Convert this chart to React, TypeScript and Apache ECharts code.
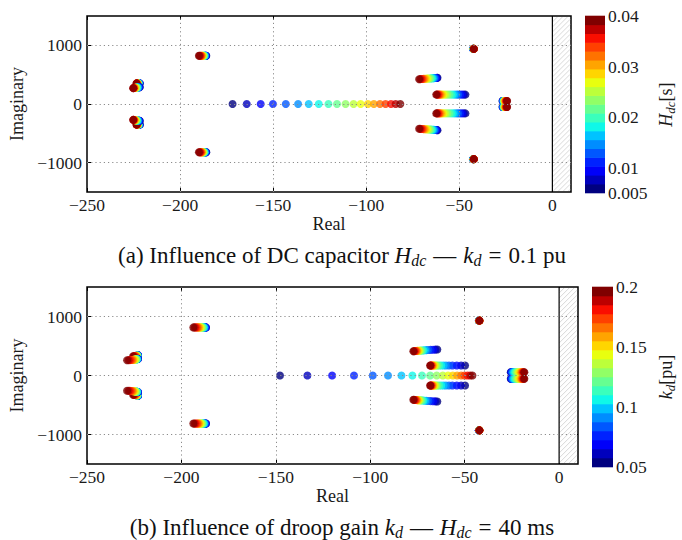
import React, { useEffect, useRef } from "react";
import * as echarts from "echarts";

// ---- parameter sweeps (colour dimension) ----
const HDC = [0.005, 0.00684, 0.00868, 0.01053, 0.01237, 0.01421, 0.01605, 0.01789, 0.01974, 0.02158, 0.02342, 0.02526, 0.02711, 0.02895, 0.03079, 0.03263, 0.03447, 0.03632, 0.03816, 0.04];
const KD = [0.05, 0.0579, 0.0658, 0.0737, 0.0816, 0.0895, 0.0974, 0.1053, 0.1132, 0.1211, 0.1289, 0.1368, 0.1447, 0.1526, 0.1605, 0.1684, 0.1763, 0.1842, 0.1921, 0.2];

// ---- (a) eigenvalue loci vs H_dc (upper half plane; conjugates mirrored) ----
const A_REAL_RE = [-171.8, -164.2, -156.7, -150.1, -143.2, -136.6, -130.9, -125.5, -120.3, -115.7, -111.1, -106.8, -103.0, -99.1, -95.9, -92.6, -89.6, -86.7, -84.2, -81.7];
const A_REAL_IM = 0;
const A_LF1_RE = [-221.6, -221.7, -221.8, -221.9, -222.0, -222.1, -222.2, -222.3, -222.4, -222.5, -222.6, -222.7, -222.8, -222.9, -223.0, -223.1, -223.2, -223.3, -223.35, -223.4];
const A_LF1_IM = 352;
const A_LF2_RE = [-221.6, -221.8, -222.0, -222.2, -222.4, -222.6, -222.8, -223.0, -223.2, -223.4, -223.6, -223.8, -224.0, -224.2, -224.4, -224.6, -224.8, -225.0, -225.1, -225.2];
const A_LF2_IM = [288, 287, 286, 285, 284, 283, 282, 281, 280, 279, 278, 277, 276, 275, 274, 273, 272, 271, 270, 270];
const A_M820_RE = [-185.9, -186.1, -186.2, -186.4, -186.5, -186.7, -186.8, -187.0, -187.1, -187.3, -187.5, -187.7, -187.9, -188.1, -188.3, -188.6, -188.9, -189.2, -189.5, -189.9];
const A_M820_IM = 822;
const A_M430_RE = [-61.7, -62.0, -62.4, -62.8, -63.2, -63.6, -64.1, -64.6, -65.1, -65.6, -66.2, -66.8, -67.4, -68.0, -68.6, -69.2, -69.8, -70.4, -71.0, -71.6];
const A_M430_IM = [446, 445, 444, 443, 442, 441, 440, 439, 437, 436, 435, 433, 432, 430, 429, 428, 426, 425, 424, 423];
const A_M160_RE = [-46.7, -47.6, -48.6, -49.6, -50.6, -51.5, -52.5, -53.5, -54.5, -55.5, -56.5, -57.5, -58.4, -59.2, -59.9, -60.5, -61.0, -61.5, -62.0, -62.4];
const A_M160_IM = 160;
const A_M940_RE = [-42.6, -42.6, -42.5, -42.5, -42.5, -42.4, -42.4, -42.4, -42.4, -42.3, -42.3, -42.3, -42.3, -42.3, -42.2, -42.2, -42.2, -42.2, -42.2, -42.2];
const A_M940_IM = 940;
const A_M50_RE = [-26.8, -26.7, -26.6, -26.5, -26.4, -26.3, -26.2, -26.1, -26.0, -25.9, -25.8, -25.7, -25.6, -25.5, -25.3, -25.1, -24.9, -24.7, -24.5, -24.3];
const A_M50_IM = 52;

// ---- (b) eigenvalue loci vs k_d ----
const B_REAL_RE = [-147.8, -133.3, -120.2, -108.6, -98.7, -90.6, -83.5, -77.7, -72.6, -68.3, -64.8, -61.6, -58.8, -56.3, -54.0, -51.9, -50.1, -48.5, -47.1, -45.9];
const B_REAL_IM = 0;
const B_LF1_RE = [-223.0, -223.0, -223.1, -223.1, -223.2, -223.2, -223.3, -223.3, -223.4, -223.5, -223.6, -223.7, -223.8, -223.9, -224.1, -224.3, -224.6, -224.9, -225.2, -225.6];
const B_LF1_IM = [345, 344, 343, 342, 341, 340, 339, 338, 337, 336, 335, 334, 333, 332, 331, 330, 329, 328, 327, 326];
const B_LF2_RE = [-223.0, -223.1, -223.1, -223.2, -223.3, -223.4, -223.5, -223.6, -223.8, -224.0, -224.2, -224.5, -224.8, -225.2, -225.6, -226.1, -226.7, -227.3, -228.0, -228.8];
const B_LF2_IM = [282, 281, 280, 279, 278, 277, 276, 275, 274, 273, 272, 270, 269, 267, 266, 264, 263, 261, 260, 258];
const B_M820_RE = [-187.0, -187.1, -187.2, -187.4, -187.6, -187.8, -188.0, -188.3, -188.6, -188.9, -189.2, -189.6, -190.0, -190.4, -190.8, -191.3, -191.8, -192.4, -193.0, -193.7];
const B_M820_IM = 815;
const B_M430_RE = [-64.5, -65.5, -66.7, -68.0, -69.2, -70.2, -71.0, -71.8, -72.4, -73.0, -73.5, -74.0, -74.4, -74.8, -75.2, -75.6, -76.0, -76.4, -76.8, -77.2];
const B_M430_IM = [440, 438, 436, 434, 432, 430, 428, 426, 424, 422, 421, 420, 419, 418, 417, 416, 415, 414, 412, 410];
const B_M160_RE = [-49.8, -51.9, -54.2, -56.5, -58.3, -59.9, -61.2, -62.4, -63.4, -64.3, -65.0, -65.6, -66.1, -66.5, -66.9, -67.3, -67.6, -67.9, -68.1, -68.3];
const B_M160_IM = 169;
const B_M930_RE = [-42.5, -42.5, -42.5, -42.4, -42.4, -42.4, -42.4, -42.3, -42.3, -42.3, -42.3, -42.3, -42.2, -42.2, -42.2, -42.2, -42.2, -42.2, -42.2, -42.2];
const B_M930_IM = 930;
const B_M55_RE = [-25.6, -25.4, -25.2, -25.0, -24.8, -24.5, -24.1, -23.6, -23.1, -22.6, -22.1, -21.6, -21.1, -20.6, -20.1, -19.7, -19.3, -19.0, -18.7, -18.4];
const B_M55_IM = 55;

// ---- axes / ticks ----
const X_MIN = -250;
const X_MAX = 10;
const Y_MIN = -1500;
const Y_MAX = 1500;
const X_TICKS = [-250, -200, -150, -100, -50, 0];
const X_GRID = [-200, -150, -100, -50];
const Y_TICKS = [-1000, 0, 1000];
const HDC_MIN = 0.005;
const HDC_MAX = 0.04;
const HDC_TICKS = [0.005, 0.01, 0.02, 0.03, 0.04];
const KD_MIN = 0.05;
const KD_MAX = 0.2;
const KD_TICKS = [0.05, 0.1, 0.15, 0.2];
const N_LEVELS = 20;

const SERIF = "'Liberation Serif', 'DejaVu Serif', serif";
const TXT = "#1a1a1a";

function jet(t: number): string {
  const f = (pts: number[][]) => {
    for (let k = 1; k < pts.length; k++) {
      if (t <= pts[k][0]) {
        const [x0, y0] = pts[k - 1];
        const [x1, y1] = pts[k];
        return y0 + ((y1 - y0) * (t - x0)) / (x1 - x0);
      }
    }
    return pts[pts.length - 1][1];
  };
  const r = f([[0, 0], [0.35, 0], [0.66, 1], [0.89, 1], [1, 0.5]]);
  const g = f([[0, 0], [0.125, 0], [0.375, 1], [0.64, 1], [0.91, 0], [1, 0]]);
  const b = f([[0, 0.5], [0.11, 1], [0.34, 1], [0.65, 0], [1, 0]]);
  return `rgb(${Math.round(r * 255)},${Math.round(g * 255)},${Math.round(b * 255)})`;
}

type Traj = [number[], number | number[]];

function buildPoints(trajs: Traj[], params: number[]) {
  const out: number[][] = [];
  trajs.forEach(([re, im]) => {
    re.forEach((r, i) => {
      const v = Array.isArray(im) ? im[i] : im;
      out.push([r, v, params[i]]);
      if (v !== 0) out.push([r, -v, params[i]]);
    });
  });
  return out;
}

function pieces(min: number, max: number) {
  const w = (max - min) / N_LEVELS;
  const res: any[] = [];
  for (let i = 0; i < N_LEVELS; i++) {
    const lo = min + i * w;
    const p: any = { gte: lo, color: jet(i / (N_LEVELS - 1)) };
    if (i === N_LEVELS - 1) p.lte = max;
    else p.lt = min + (i + 1) * w;
    res.push(p);
  }
  return res;
}

function bands(min: number, max: number) {
  const w = (max - min) / N_LEVELS;
  const res: number[][] = [];
  for (let i = 0; i < N_LEVELS; i++) res.push([min + i * w, min + (i + 1) * w, i]);
  return res;
}

const fmtX = (v: number) => (v < 0 ? "\u2212" + Math.abs(v) : String(v));

function mainX(grid: number, position: string, labels: boolean) {
  return {
    gridIndex: grid,
    type: "value",
    min: X_MIN,
    max: X_MAX,
    position,
    name: labels ? "Real" : "",
    nameLocation: "middle",
    nameGap: 19,
    nameTextStyle: { fontFamily: SERIF, fontSize: 18, color: TXT },
    axisLine: { show: false, onZero: false },
    axisTick: { show: true, inside: true, length: 4, customValues: X_TICKS, lineStyle: { color: "#000", width: 1 } },
    axisLabel: { show: labels, customValues: X_TICKS, formatter: fmtX, margin: 4, fontFamily: SERIF, fontSize: 17.5, color: TXT },
    splitLine: { show: false },
  };
}

function mainY(grid: number, position: string, labels: boolean) {
  return {
    gridIndex: grid,
    type: "value",
    min: Y_MIN,
    max: Y_MAX,
    position,
    name: labels ? "Imaginary" : "",
    nameLocation: "middle",
    nameRotate: 90,
    nameGap: 58,
    nameTextStyle: { fontFamily: SERIF, fontSize: 18, color: TXT },
    axisLine: { show: false, onZero: false },
    axisTick: { show: true, inside: true, length: 4, customValues: Y_TICKS, lineStyle: { color: "#000", width: 1 } },
    axisLabel: { show: labels, customValues: Y_TICKS, formatter: fmtX, margin: 5, fontFamily: SERIF, fontSize: 17.5, color: TXT },
    splitLine: { show: false },
  };
}

function cbX(grid: number) {
  return { gridIndex: grid, type: "value", min: 0, max: 1, show: false, axisLine: { onZero: false } };
}

function cbY(grid: number, min: number, max: number, ticks: number[], name: string, gap: number) {
  const base = { fontFamily: SERIF, color: TXT };
  return {
    gridIndex: grid,
    type: "value",
    min,
    max,
    position: "right",
    name,
    nameLocation: "middle",
    nameRotate: 90,
    nameGap: gap,
    nameTextStyle: {
      ...base,
      fontSize: 18,
      rich: {
        i: { ...base, fontSize: 18, fontStyle: "italic" },
        s: { ...base, fontSize: 13, fontStyle: "italic", padding: [9, 0, 0, 0] },
        n: { ...base, fontSize: 18 },
      },
    },
    axisLine: { show: false, onZero: false },
    axisTick: { show: false },
    splitLine: { show: false },
    axisLabel: { show: true, customValues: ticks, formatter: (v: number) => String(v), margin: 3, fontFamily: SERIF, fontSize: 17.5, color: TXT },
  };
}

function hatchSeries(xIdx: number, yIdx: number) {
  return {
    type: "custom",
    xAxisIndex: xIdx,
    yAxisIndex: yIdx,
    z: 2,
    silent: true,
    data: [[0, X_MAX]],
    renderItem: (_p: any, api: any) => {
      const p0 = api.coord([api.value(0), Y_MAX]);
      const p1 = api.coord([api.value(1), Y_MIN]);
      const x0 = p0[0];
      const y0 = p0[1] + 1;
      const x1 = p1[0] - 1;
      const y1 = p1[1] - 1;
      const children: any[] = [
        { type: "rect", shape: { x: x0, y: y0, width: x1 - x0, height: y1 - y0 }, style: { fill: "#fff" } },
      ];
      for (let c = x0 + y0; c <= x1 + y1; c += 5) {
        const xs = Math.max(x0, c - y1);
        const xe = Math.min(x1, c - y0);
        if (xe > xs) {
          children.push({ type: "line", shape: { x1: xs, y1: c - xs, x2: xe, y2: c - xe }, style: { stroke: "#cfcfcf", lineWidth: 0.8 } });
        }
      }
      children.push({ type: "line", shape: { x1: x0, y1: p0[1], x2: x0, y2: p1[1] }, style: { stroke: "#000", lineWidth: 1.2 } });
      return { type: "group", children };
    },
  };
}

function gridLineSeries(xIdx: number, yIdx: number) {
  return {
    type: "scatter",
    xAxisIndex: xIdx,
    yAxisIndex: yIdx,
    z: 1,
    silent: true,
    data: [],
    markLine: {
      silent: true,
      symbol: ["none", "none"],
      label: { show: false },
      lineStyle: { color: "#8c8c8c", width: 1, type: [1.2, 3] },
      data: [...X_GRID.map((v) => ({ xAxis: v })), ...Y_TICKS.map((v) => ({ yAxis: v }))],
    },
  };
}

function colorbarSeries(xIdx: number, yIdx: number, min: number, max: number) {
  return {
    type: "custom",
    xAxisIndex: xIdx,
    yAxisIndex: yIdx,
    z: 2,
    silent: true,
    data: bands(min, max),
    renderItem: (_p: any, api: any) => {
      const a = api.coord([0, api.value(1)]);
      const b = api.coord([1, api.value(0)]);
      return {
        type: "rect",
        shape: { x: a[0], y: a[1] - 0.3, width: b[0] - a[0], height: b[1] - a[1] + 0.6 },
        style: { fill: jet(api.value(2) / (N_LEVELS - 1)) },
      };
    },
  };
}

function caption(text: string, x: number, y: number) {
  const base = { fontFamily: SERIF, fill: "#111", color: "#111" };
  return {
    type: "text",
    x,
    y,
    silent: true,
    style: {
      text,
      align: "center",
      verticalAlign: "middle",
      textAlign: "center",
      textVerticalAlign: "middle",
      fontFamily: SERIF,
      fontSize: 23,
      fill: "#111",
      rich: {
        t: { ...base, fontSize: 23 },
        i: { ...base, fontSize: 23, fontStyle: "italic" },
        m: { ...base, fontSize: 23, padding: [0, 7, 0, 7] },
        s: { ...base, fontSize: 16, fontStyle: "italic", padding: [10, 0, 0, 0] },
      },
    },
  };
}

export default function App() {
  const ref = useRef<HTMLDivElement>(null);
  useEffect(() => {
    document.body.style.margin = "0";
    if (!ref.current) return;
    const chart = echarts.init(ref.current, undefined, { renderer: "svg" });

    const aTrajs: Traj[] = [
      [A_REAL_RE, A_REAL_IM],
      [A_LF1_RE, A_LF1_IM],
      [A_LF2_RE, A_LF2_IM],
      [A_M820_RE, A_M820_IM],
      [A_M430_RE, A_M430_IM],
      [A_M160_RE, A_M160_IM],
      [A_M940_RE, A_M940_IM],
      [A_M50_RE, A_M50_IM],
    ];
    const bTrajs: Traj[] = [
      [B_REAL_RE, B_REAL_IM],
      [B_LF1_RE, B_LF1_IM],
      [B_LF2_RE, B_LF2_IM],
      [B_M820_RE, B_M820_IM],
      [B_M430_RE, B_M430_IM],
      [B_M160_RE, B_M160_IM],
      [B_M930_RE, B_M930_IM],
      [B_M55_RE, B_M55_IM],
    ];

    const option: any = {
      animation: false,
      backgroundColor: "#fff",
      textStyle: { fontFamily: SERIF },
      grid: [
        { left: 87, top: 16, width: 484, height: 176, show: true, borderColor: "#000", borderWidth: 1.5, backgroundColor: "transparent" },
        { left: 87, top: 287, width: 491, height: 177, show: true, borderColor: "#000", borderWidth: 1.5, backgroundColor: "transparent" },
        { left: 585, top: 16, width: 20, height: 177, show: false },
        { left: 592, top: 287, width: 21, height: 180, show: false },
      ],
      xAxis: [mainX(0, "bottom", true), mainX(0, "top", false), mainX(1, "bottom", true), mainX(1, "top", false), cbX(2), cbX(3)],
      yAxis: [
        mainY(0, "left", true),
        mainY(0, "right", false),
        mainY(1, "left", true),
        mainY(1, "right", false),
        cbY(2, HDC_MIN, HDC_MAX, HDC_TICKS, "{i|H}{s|dc}{n|[s]}", 50),
        cbY(3, KD_MIN, KD_MAX, KD_TICKS, "{i|k}{s|d}{n|[pu]}", 42),
      ],
      visualMap: [
        { type: "piecewise", show: false, seriesIndex: 0, dimension: 2, pieces: pieces(HDC_MIN, HDC_MAX) },
        { type: "piecewise", show: false, seriesIndex: 1, dimension: 2, pieces: pieces(KD_MIN, KD_MAX) },
      ],
      series: [
        { type: "scatter", xAxisIndex: 0, yAxisIndex: 0, z: 3, symbol: "circle", symbolSize: 8, data: buildPoints(aTrajs, HDC) },
        { type: "scatter", xAxisIndex: 2, yAxisIndex: 2, z: 3, symbol: "circle", symbolSize: 8, data: buildPoints(bTrajs, KD) },
        gridLineSeries(0, 0),
        gridLineSeries(2, 2),
        hatchSeries(0, 0),
        hatchSeries(2, 2),
        colorbarSeries(4, 4, HDC_MIN, HDC_MAX),
        colorbarSeries(5, 5, KD_MIN, KD_MAX),
      ],
      graphic: [
        caption("{t|(a) Influence of DC capacitor }{i|H}{s|dc}{m|\u2014}{i|k}{s|d}{m|=}{t|0.1 pu}", 342, 255),
        caption("{t|(b) Influence of droop gain }{i|k}{s|d}{m|\u2014}{i|H}{s|dc}{m|=}{t|40 ms}", 342, 527),
      ],
    };
    chart.setOption(option);
    return () => chart.dispose();
  }, []);
  return <div ref={ref} style={{ width: 682, height: 540 }} />;
}
